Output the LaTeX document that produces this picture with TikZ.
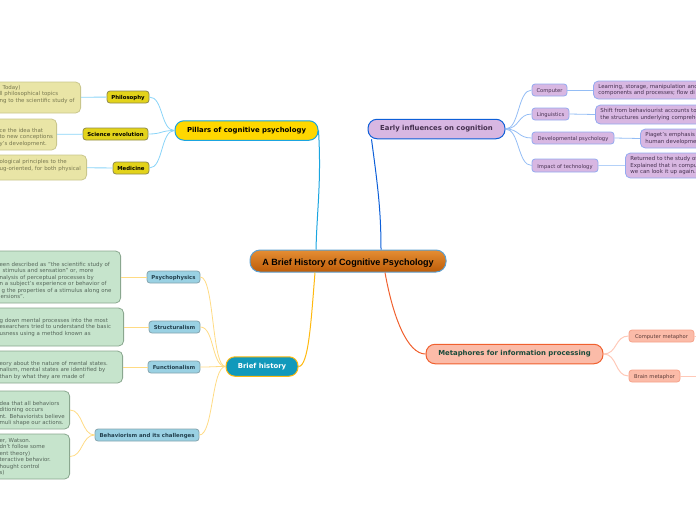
\documentclass[tikz,border=0pt]{standalone}
\usepackage{fontspec}
\setmainfont{DejaVu Sans}
\newfontfamily\arialfont{Liberation Sans}
\newcommand{\frag}[2]{\hspace*{\dimexpr60pt+#1pt\relax}#2}
\newcommand{\topdrop}[1]{\rule{0pt}{\dimexpr4.1pt+#1pt*2\relax}}
\newcommand{\botlift}[1]{\rule[\dimexpr-1.3pt-#1pt*2\relax]{0pt}{0pt}}
\definecolor{cRootA}{HTML}{E58E34}\definecolor{cRootB}{HTML}{5C9FD0}\definecolor{cRootC}{HTML}{BD5C08}
\definecolor{cYn}{HTML}{E9E5A6}\definecolor{cYnB}{HTML}{C9C68C}\definecolor{cYnT}{HTML}{77774F}
\definecolor{cGn}{HTML}{C6E4CC}\definecolor{cGnB}{HTML}{8AA78F}\definecolor{cGnT}{HTML}{55665A}
\definecolor{cPu}{HTML}{D8B7E2}\definecolor{cPuN}{HTML}{93AAF0}\definecolor{cPuT}{HTML}{45304F}
\definecolor{cYs}{HTML}{E3D31A}\definecolor{cYsB}{HTML}{8F8B4C}
\definecolor{cBs}{HTML}{9AD1E3}\definecolor{cBsB}{HTML}{84A4AE}\definecolor{cBsT}{HTML}{23414F}
\definecolor{cOr}{HTML}{FBBBA8}\definecolor{cOrN}{HTML}{F6A28A}\definecolor{cOrT}{HTML}{5A3A36}
\definecolor{cL1}{HTML}{8AD4F8}\definecolor{cL2}{HTML}{94BDF5}\definecolor{cL3}{HTML}{FFDB84}\definecolor{cL4}{HTML}{FFC9B8}
\definecolor{cGold}{HTML}{FFD700}\definecolor{cPil}{HTML}{1AA5E0}\definecolor{cEar}{HTML}{0D5FD8}
\definecolor{cBri}{HTML}{1199BB}\definecolor{cAmb}{HTML}{FFB90F}\definecolor{cMet}{HTML}{F0602E}\definecolor{cMetT}{HTML}{1A4A3A}
\tikzset{
  base/.style={rounded corners=3pt, inner sep=0pt, align=center, line width=.8pt},
  root/.style={base, rounded corners=10pt, draw=cRootB, line width=1pt, top color=cRootA, bottom color=cRootC, minimum height=22pt, minimum width=196pt, text height=8.6pt, text depth=0pt, text=black, font=\arialfont\bfseries\fontsize{9.05}{11}\selectfont},
  main/.style={base, rounded corners=9pt, line width=1pt, minimum height=19.5pt, font=\bfseries\fontsize{6.9}{8}\selectfont},
  sub/.style={base, minimum height=12pt, text height=5pt, text depth=0pt, font=\fontsize{5.2}{6}\selectfont},
  subb/.style={sub, font=\bfseries\fontsize{5.4}{6}\selectfont},
  note/.style={base, rounded corners=5pt, align=left, font=\fontsize{5.45}{6.5}\selectfont},
  ynote/.style={note, fill=cYn, draw=cYnB, text=cYnT},
  gnote/.style={note, fill=cGn, draw=cGnB, text=cGnT},
  pnote/.style={note, fill=cPu, draw=cPuN, text=cPuT, inner xsep=5pt, text width=200pt},
  ysub/.style={subb, fill=cYs, draw=cYsB, text=black},
  bsub/.style={subb, fill=cBs, draw=cBsB, text=cBsT},
  psub/.style={sub, fill=cPu, draw=cPuN, text=cPuT},
  osub/.style={sub, fill=cOr, draw=cOrN, text=cOrT},
  blue link/.style={draw=cL1, line width=.8pt},
  purple link/.style={draw=cL2, line width=.8pt},
  gold link/.style={draw=cL3, line width=.8pt},
  peach link/.style={draw=cL4, line width=1pt}
}
\begin{document}
\begin{tikzpicture}[x=1pt,y=-1pt]
\useasboundingbox (0,0) rectangle (696,520);
\clip (0,0) rectangle (696,520);
% root
\node[root] (c) at (348,261) {A Brief History of Cognitive Psychology};
% main branches
\node[main, fill=cGold, draw=cPil, minimum width=143pt, text=black] (pil) at (246.5,130.5) {Pillars of cognitive psychology};
\node[main, fill=cPu, draw=cEar, minimum width=137pt, text=cPuT] (ear) at (436.5,129) {Early influences on cognition};
\node[main, fill=cBri, draw=cAmb, minimum width=72pt, text=white] (bri) at (262,366.5) {Brief history};
\node[main, fill=cOr, draw=cMet, minimum width=177pt, text=cMetT] (met) at (514.5,354) {Metaphores for information processing};
% pillars
\node[ysub, minimum width=42pt] (s1) at (128,97) {Philosophy};
\node[ysub, minimum width=65pt] (s2) at (115.5,134) {Science revolution};
\node[ysub, minimum width=36pt] (s3) at (131,168) {Medicine};
\node[ynote, anchor=east, text width=141pt, minimum height=31pt] (n1) at (81,97.5) {\frag{3}{Today)}\\\frag{0}{ll philosophical topics}\\\frag{0}{ng to the scientific study of}\botlift{3}};
\node[ynote, anchor=east, text width=117pt, minimum height=31pt] (n2) at (57,134.5) {\topdrop{3}\frag{0}{ce the idea that}\\\frag{0}{to new conceptions}\\\frag{0}{y's development.}};
\node[ynote, anchor=east, text width=147pt, minimum height=25pt] (n3) at (87,167.5) {\frag{0}{ological principles to the}\\\frag{0}{ug-oriented, for both physical}\botlift{2}};
% early
\node[psub, minimum width=35pt] (e1) at (549.5,90) {Computer};
\node[psub, minimum width=37pt] (e2) at (550.5,114) {Linguistics};
\node[psub, minimum width=82pt] (e3) at (573,138) {Developmental psychology};
\node[psub, minimum width=66pt, minimum height=13pt] (e4) at (565,165.5) {Impact of technology};
\node[pnote, anchor=west, minimum height=18pt] (m1) at (593,90) {Learning, storage, manipulation and\\components and processes; flow di};
\node[pnote, anchor=west, minimum height=19pt] (m2) at (595,114.5) {Shift from behaviourist accounts to\\the structures underlying comprehe};
\node[pnote, anchor=west, minimum height=19pt] (m3) at (640,138.5) {Piaget's emphasis\\human developme};
\node[pnote, anchor=west, minimum height=25pt] (m4) at (625,165.5) {Returned to the study of\\Explained that in compu\\we can look it up again.};
% brief history
\node[bsub, minimum width=53pt] (b1) at (173.5,277) {Psychophysics};
\node[bsub, minimum width=51pt] (b2) at (174.5,327) {Structuralism};
\node[bsub, minimum width=52pt] (b3) at (174,367) {Functionalism};
\node[bsub, minimum width=104pt] (b4) at (147,435) {Behaviorism and its challenges};
\node[gnote, anchor=east, text width=181pt, minimum height=52pt] (g1) at (121,277) {\topdrop{3.5}\frag{0}{een described as "the scientific study of}\\\frag{3}{stimulus and sensation" or, more}\\\frag{0}{nalysis of perceptual processes by}\\\frag{0}{n a subject's experience or behavior of}\\\frag{2}{g the properties of a stimulus along one}\\\frag{1}{ersions".}};
\node[gnote, anchor=east, text width=184pt, minimum height=38pt] (g2) at (124,327) {\frag{0}{g down mental processes into the most}\\\frag{0}{esearchers tried to understand the basic}\\\frag{0}{usness using a method known as}};
\node[gnote, anchor=east, text width=183pt, minimum height=32pt] (g3) at (123,367) {\topdrop{3.5}\frag{0}{eory about the nature of mental states.}\\\frag{0}{nalism, mental states are identified by}\\\frag{0}{than by what they are made of}};
\node[gnote, anchor=east, text width=130pt, minimum height=38pt] (g4) at (70,410) {\topdrop{3.5}\frag{0}{dea that all behaviors}\\\frag{0}{ditioning occurs}\\\frag{0}{nt. Behaviorists believe}\\\frag{0}{muli shape our actions.}};
\node[gnote, anchor=east, text width=130pt, minimum height=45pt] (g5) at (70,456.5) {\topdrop{.5}\frag{0}{er, Watson.}\\\frag{0}{dn't follow some}\\\frag{0}{ent theory)}\\\frag{0}{teractive behavior.}\\\frag{0}{hought control}\\\frag{0}{s)}};
% metaphors
\node[osub, minimum width=65pt] (o1) at (661.5,336) {Computer metaphor};
\node[osub, minimum width=51pt] (o2) at (654.5,376) {Brain metaphor};
\coordinate (f1) at (696,336);
\coordinate (f2) at (696,376);
% main connectors
\draw[cPil, line width=1pt] ([xshift=-32pt]c.north) .. controls +(1,-40) and +(3,50) .. (pil.east);
\draw[cEar, line width=1pt] ([xshift=33pt]c.north) .. controls +(0,-40) and +(6,45) .. ([xshift=-65pt]ear.south);
\draw[cAmb, line width=1pt] ([xshift=-33pt]c.south) .. controls +(-4,50) and +(10,0) .. (bri.east);
\draw[cMet, line width=1pt] ([xshift=37pt]c.south) .. controls +(8,45) and +(-18,0) .. (met.west);
% pillars connectors
\draw[blue link] (pil.west) .. controls +(-14,0) and +(14,0) .. (s1.east);
\draw[blue link] (pil.west) .. controls +(-14,0) and +(14,0) .. (s2.east);
\draw[blue link] (pil.west) .. controls +(-14,0) and +(14,0) .. (s3.east);
\draw[blue link] (s1) -- (n1);
\draw[blue link] (s2) -- (n2);
\draw[blue link] (s3) -- (n3);
% early connectors
\foreach \k in {e1,e2,e3,e4} \draw[purple link] (ear.east) .. controls +(14,0) and +(-14,0) .. (\k.west);
\draw[purple link] (e1.east) -- (m1.west);
\draw[purple link] (e2.east) -- (m2.west);
\draw[purple link] (e3.east) -- (m3.west);
\draw[purple link, line width=1.3pt, cL2!70!white] (e4.east) -- (m4.west);
% brief connectors
\foreach \k in {b1,b2,b3,b4} \draw[gold link] (bri.west) .. controls +(-14,0) and +(14,0) .. (\k.east);
\draw[gold link] (b1.west) -- (g1.east);
\draw[gold link] (b2.west) -- (g2.east);
\draw[gold link] (b3.west) -- (g3.east);
\draw[gold link] (b4.west) .. controls +(-13,0) and +(13,0) .. (g4.east);
\draw[gold link] (b4.west) .. controls +(-13,0) and +(13,0) .. (g5.east);
% metaphor connectors
\draw[peach link] (met.east) .. controls +(14,0) and +(-14,0) .. (o1.west);
\draw[peach link] (met.east) .. controls +(14,0) and +(-14,0) .. (o2.west);
\draw[peach link] (o1.east) -- (f1);
\draw[peach link] (o2.east) -- (f2);
\end{tikzpicture}
\end{document}
